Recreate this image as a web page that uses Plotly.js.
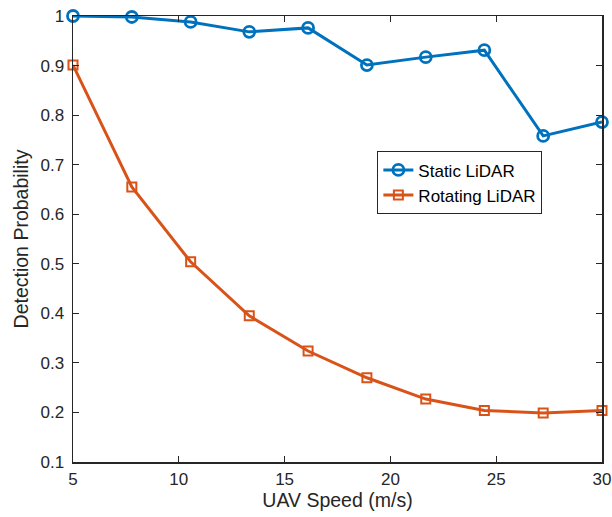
<!DOCTYPE html>
<html><head><meta charset="utf-8">
<script src="https://cdn.plot.ly/plotly-3.0.1.min.js"></script>
<style>html,body{margin:0;padding:0;background:#fff;}#chart{width:612px;height:517px;}</style>
</head><body><div id="chart"></div>
<script>
var speeds = [5, 7.78, 10.56, 13.33, 16.11, 18.89, 21.67, 24.44, 27.22, 30];
var staticLidar = [1.0, 0.998, 0.988, 0.968, 0.976, 0.901, 0.917, 0.931, 0.758, 0.786];
var rotatingLidar = [0.901, 0.655, 0.504, 0.395, 0.324, 0.270, 0.227, 0.204, 0.199, 0.204];
var seriesNames = ["Static LiDAR", "Rotating LiDAR"];
var yTicks = [0.1, 0.2, 0.3, 0.4, 0.5, 0.6, 0.7, 0.8, 0.9, 1];
var xTicks = [5, 10, 15, 20, 25, 30];

var font = "Liberation Sans, Arial, sans-serif";
var axisColor = "#262626";

var traces = [
  {x: speeds, y: staticLidar, name: seriesNames[0], mode: "lines+markers", cliponaxis: false,
   line: {color: "#0072BD", width: 3},
   marker: {symbol: "circle-open", size: 11, color: "#0072BD", line: {width: 2.8, color: "#0072BD"}}},
  {x: speeds, y: rotatingLidar, name: seriesNames[1], mode: "lines+markers", cliponaxis: false,
   line: {color: "#D95319", width: 3},
   marker: {symbol: "square-open", size: 9, color: "#D95319", line: {width: 2, color: "#D95319"}}}
];

var layout = {
  width: 612, height: 517,
  margin: {l: 73, r: 10, t: 16, b: 55},
  paper_bgcolor: "#fff", plot_bgcolor: "#fff",
  font: {family: font, size: 17, color: axisColor},
  showlegend: true,
  legend: {x: 0.575, y: 0.697, xanchor: "left", yanchor: "top",
           bordercolor: axisColor, borderwidth: 1.2, bgcolor: "#fff",
           font: {family: font, size: 17, color: "#000"}, tracegroupgap: 0},
  xaxis: {range: [5, 30], tickvals: xTicks, ticktext: xTicks.map(String),
          showgrid: false, zeroline: false, showline: true, linecolor: axisColor, linewidth: 1.5,
          mirror: "ticks", ticks: "inside", ticklen: 6, tickcolor: axisColor, tickwidth: 1.2,
          ticklabelstandoff: 1,
          tickfont: {family: font, size: 17, color: axisColor},
          title: {text: "UAV Speed (m/s)", font: {family: font, size: 19.5, color: axisColor}, standoff: 4}},
  yaxis: {range: [0.1, 1], tickvals: yTicks, ticktext: yTicks.map(String),
          showgrid: false, zeroline: false, showline: true, linecolor: axisColor, linewidth: 1.5,
          mirror: "ticks", ticks: "inside", ticklen: 6, tickcolor: axisColor, tickwidth: 1.2,
          ticklabelstandoff: 4,
          tickfont: {family: font, size: 17, color: axisColor},
          title: {text: "Detection Probability", font: {family: font, size: 19.5, color: axisColor}, standoff: 6}}
};

Plotly.newPlot("chart", traces, layout, {displayModeBar: false, staticPlot: true});
</script>
</body></html>
